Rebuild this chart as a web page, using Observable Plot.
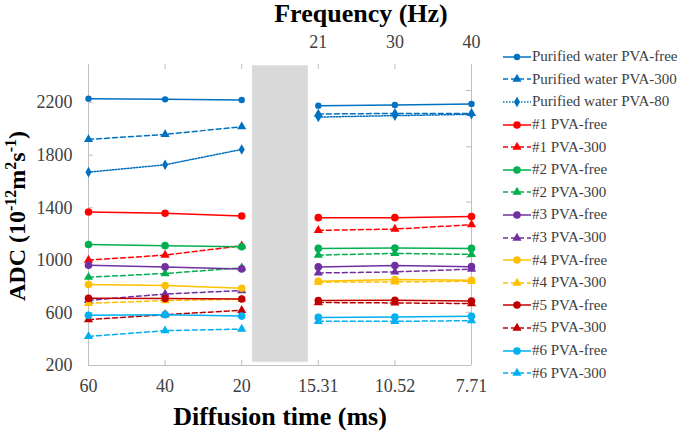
<!DOCTYPE html>
<html>
<head>
<meta charset="utf-8">
<script src="https://cdn.jsdelivr.net/npm/d3@7"></script>
<script src="https://cdn.jsdelivr.net/npm/@observablehq/plot@0.6"></script>
<style>
  html, body { margin: 0; padding: 0; background: #fff; }
  #wrap { position: relative; width: 685px; height: 435px; overflow: hidden; font-family: "Liberation Serif", "Times New Roman", serif; }
  #legend { position: absolute; left: 503px; top: 0; }
  .row { position: absolute; left: 0; height: 22px; display: flex; align-items: center; white-space: nowrap; font-family: "Liberation Serif", "Times New Roman", serif; font-size: 15px; color: #404040; }
  .row svg { display: block; margin-right: 1px; }
</style>
</head>
<body>
<div id="wrap"></div>
<script>
// ---- Data ----
const timeLabels = ["60", "40", "20", "15.31", "10.52", "7.71"];
const freqTickIndex = [3, 4, 5];
const freqLabels = ["21", "30", "40"];
const yTicks = [200, 600, 1000, 1400, 1800, 2200];
const rightTicks = [605, 1024, 1444, 1864, 2292];
const yDomain = [200, 2490];
const gapBand = {x1: 2.14, x2: 2.87, y1: 225, y2: 2480};

const seriesNames = [
  "Purified water PVA-free", "Purified water PVA-300", "Purified water PVA-80",
  "#1 PVA-free", "#1 PVA-300", "#2 PVA-free", "#2 PVA-300",
  "#3 PVA-free", "#3 PVA-300", "#4 PVA-free", "#4 PVA-300",
  "#5 PVA-free", "#5 PVA-300", "#6 PVA-free", "#6 PVA-300"
];
const seriesColors = [
  "#0070c0", "#0070c0", "#0070c0",
  "#ff0000", "#ff0000", "#00b050", "#00b050",
  "#7030a0", "#7030a0", "#ffc000", "#ffc000",
  "#c00000", "#c00000", "#00b0f0", "#00b0f0"
];
const seriesKinds = ["free", "300", "80", "free", "300", "free", "300", "free", "300", "free", "300", "free", "300", "free", "300"];

const pwFree = [2230, 2225, 2220, 2177, 2182, 2189];
const pw300  = [1920, 1958, 2017, 2113, 2118, 2118];
const pw80   = [1671, 1727, 1844, 2090, 2101, 2111];
const s1Free = [1368, 1358, 1337, 1325, 1325, 1333];
const s1300  = [1002, 1040, 1111, 1228, 1238, 1271];
const s2Free = [1120, 1112, 1104, 1091, 1094, 1091];
const s2300  = [872, 900, 943, 1040, 1053, 1045];
const s3Free = [963, 950, 935, 950, 960, 952];
const s3300  = [696, 744, 770, 904, 912, 933];
const s4Free = [816, 808, 788, 841, 854, 849];
const s4300  = [673, 694, 704, 834, 836, 841];
const s5Free = [711, 709, 706, 694, 696, 691];
const s5300  = [549, 587, 620, 679, 676, 671];
const s6Free = [582, 587, 576, 566, 569, 574];
const s6300  = [421, 465, 477, 536, 536, 541];

const seriesValues = [pwFree, pw300, pw80, s1Free, s1300, s2Free, s2300, s3Free, s3300, s4Free, s4300, s5Free, s5300, s6Free, s6300];

// ---- Styles ----
const FONT = "Liberation Serif, Times New Roman, serif";
const kindStyle = {
  free: {dash: null, symbol: "circle"},
  "300": {dash: "5,3", symbol: "triangle"},
  "80": {dash: "1.5,1.5", symbol: "diamond"}
};
function markerR(i) {
  const k = seriesKinds[i];
  if (k === "free") return i < 3 ? 3.2 : 3.8;
  if (k === "300") return 3.4;
  return 3.2;
}

// ---- Build table ----
const rows = [];
seriesValues.forEach((vals, s) => {
  vals.forEach((v, j) => rows.push({s, name: seriesNames[s], x: j, y: v, seg: j < 3 ? 0 : 1}));
});

const W = 685, H = 435;
const mL = 88, mR = 214, mT = 64, mB = 70;
const frameW = W - mL - mR, frameH = H - mT - mB;
const grid = "#bfbfbf";

const marks = [
  Plot.rect([gapBand], {x1: "x1", x2: "x2", y1: "y1", y2: "y2", fill: "#d9d9d9"}),
  Plot.ruleX([0, timeLabels.length - 1], {stroke: grid, strokeWidth: 1}),
  Plot.ruleY([yDomain[0]], {stroke: grid, strokeWidth: 1}),
  Plot.tickX(d3.range(timeLabels.length), {x: d => d, insetTop: frameH - 5, stroke: grid}),
  Plot.tickX(d3.range(timeLabels.length), {x: d => d, insetBottom: frameH - 5, stroke: grid}),
  Plot.tickY(yTicks, {y: d => d, insetRight: frameW - 5, stroke: grid}),
  Plot.tickY(rightTicks, {y: d => d, insetLeft: frameW - 5, stroke: grid})
];

seriesValues.forEach((vals, s) => {
  const data = rows.filter(r => r.s === s);
  const st = kindStyle[seriesKinds[s]];
  marks.push(Plot.line(data, {
    x: "x", y: "y", z: "seg", stroke: seriesColors[s], strokeWidth: 1.5,
    strokeDasharray: st.dash, curve: "linear"
  }));
  marks.push(Plot.dot(data, {
    x: "x", y: "y", symbol: () => st.symbol, fill: seriesColors[s], stroke: "none", r: markerR(s)
  }));
});

marks.push(
  Plot.axisX(d3.range(timeLabels.length), {anchor: "bottom", tickSize: 0, tickPadding: 14, tickFormat: i => timeLabels[i], fontSize: 18, fontFamily: FONT, fill: "#404040", label: null}),
  Plot.axisX(freqTickIndex, {anchor: "top", tickSize: 0, tickPadding: 17, tickFormat: d => freqLabels[freqTickIndex.indexOf(d)], fontSize: 18, fontFamily: FONT, fill: "#404040", label: null}),
  Plot.axisY(yTicks, {anchor: "left", tickSize: 0, tickPadding: 16, tickFormat: d => String(d), fontSize: 18, fontFamily: FONT, fill: "#404040", label: null}),
  Plot.text(["Diffusion time (ms)"], {frameAnchor: "bottom", dy: 51, fontSize: 26, fontFamily: FONT, fontWeight: "bold", fill: "#000", lineAnchor: "middle"}),
  Plot.text(["Frequency (Hz)"], {frameAnchor: "top", dy: -51, dx: 81, fontSize: 26, fontFamily: FONT, fontWeight: "bold", fill: "#000", lineAnchor: "middle"})
);

const chart = Plot.plot({
  width: W, height: H,
  marginLeft: mL, marginRight: mR, marginTop: mT, marginBottom: mB,
  x: {type: "linear", domain: [0, timeLabels.length - 1], axis: null},
  y: {type: "linear", domain: yDomain, axis: null},
  style: {fontFamily: FONT, fontSize: "18px", color: "#404040", background: "#fff", overflow: "visible"},
  marks
});

document.getElementById("wrap").appendChild(chart);

// Y axis title with superscripts
const svg = d3.select(chart);
const yt = svg.append("text")
  .attr("transform", "translate(25,216) rotate(-90)")
  .attr("text-anchor", "middle")
  .attr("font-family", FONT)
  .attr("font-weight", "bold")
  .attr("font-size", 24)
  .attr("fill", "#000");
yt.append("tspan").text("ADC (10");
yt.append("tspan").attr("font-size", 16).attr("dy", -9).text("-12");
yt.append("tspan").attr("dy", 9).text("m");
yt.append("tspan").attr("font-size", 16).attr("dy", -9).text("2");
yt.append("tspan").attr("dy", 9).text("s");
yt.append("tspan").attr("font-size", 16).attr("dy", -9).text("-1");
yt.append("tspan").attr("dy", 9).text(")");

// Legend
const legend = d3.select("#wrap").append("div").attr("id", "legend");
seriesNames.forEach((name, s) => {
  const st = kindStyle[seriesKinds[s]];
  const row = legend.append("div").attr("class", "row").style("top", (56.7 + s * 22.6 - 11) + "px");
  const sv = row.append("svg").attr("width", 28).attr("height", 14);
  sv.append("line").attr("x1", 0).attr("x2", 28).attr("y1", 7).attr("y2", 7)
    .attr("stroke", seriesColors[s]).attr("stroke-width", 1.5)
    .attr("stroke-dasharray", st.dash);
  const sym = {circle: d3.symbolCircle, triangle: d3.symbolTriangle, diamond: d3.symbolDiamond}[st.symbol];
  const r = markerR(s);
  sv.append("path").attr("transform", "translate(14,7)")
    .attr("d", d3.symbol(sym, Math.PI * r * r)())
    .attr("fill", seriesColors[s]);
  row.append("span").text(name);
});
</script>
</body>
</html>
